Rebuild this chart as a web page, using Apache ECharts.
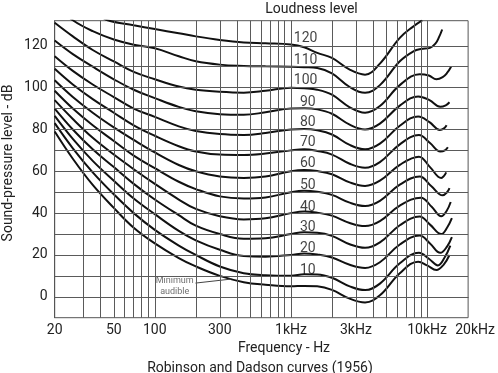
<!DOCTYPE html>
<html><head><meta charset="utf-8">
<script src="https://cdn.jsdelivr.net/npm/echarts@6/dist/echarts.min.js"></script>
<style>html,body{margin:0;padding:0;background:#fff}#c{width:498px;height:373px}</style>
</head><body><div id="c"></div>
<script>
// ---- data ----
const freqTicks = [20, 50, 100, 300, 1000, 3000, 10000, 20000];
const tickText = ['20', '50', '100', '300', '1kHz', '3kHz', '10kHz', '20kHz'];
const vGrid = [30,40,50,60,70,80,90,100,200,300,400,500,600,700,800,900,1000,2000,3000,4000,5000,6000,7000,8000,9000,10000];
const hGrid = [0,10,20,30,40,50,60,70,80,90,100,110,120];
const phonText = ['120','110','100','90','80','70','60','50','40','30','20','10'];
const labelHz = [1280,1280,1280,1330,1330,1330,1330,1330,1330,1330,1330,1330];
const labelDb = [123.3,112.8,103.2,92.9,83.3,73.8,63.5,53.4,42.9,33.1,23.0,12.8];

const curve120 = [[40,134.5],[45,132.2],[70,129.8],[100,128],[150,126],[200,124.5],[300,122.8],[450,121.6],[650,121.2],[1000,120.6],[1250,119.3],[1560,116.6],[2000,114.2],[2700,108.6],[3500,106.2],[4500,111.5],[6300,123.8],[8000,129.5],[9200,132.2]];
const curve110 = [[22,136],[25,132.2],[35,127],[50,123],[70,120.5],[100,118.8],[150,115],[200,112.6],[300,111],[450,110.4],[650,110.2],[1000,110],[1250,109.8],[1560,109.4],[2000,106.8],[2700,100.3],[3500,97.5],[4500,101.2],[6300,112.6],[8000,117.5],[9000,118.5],[10500,119],[11500,121],[12200,124],[12900,127.8]];
const curve100 = [[18.4,131],[25,124.5],[35,118],[50,112.5],[70,107.5],[100,104],[150,100.5],[200,99],[300,98],[450,97.6],[650,98.5],[1000,100],[1250,99.7],[1560,99],[2000,96.6],[2700,90.6],[3500,88],[4500,91.2],[6300,101.2],[8800,106.4],[10300,105.8],[11700,104],[13000,105],[14000,107],[15000,110]];
const curve90 = [[18.4,122.5],[25,116],[35,110],[50,104],[70,99],[100,95],[150,90.8],[200,88.7],[300,87.3],[450,87],[650,88.2],[1000,90],[1250,90.1],[1560,89.6],[2000,87.5],[2700,82.3],[3500,80],[4500,82.8],[6300,91.4],[8600,95.8],[10400,94],[12500,90.8],[13700,91.5],[14600,93]];
const curve80 = [[18.4,115],[25,108],[35,101.5],[50,95.5],[70,90],[100,86],[150,81.5],[200,79.3],[300,77.8],[450,77.4],[650,78.3],[1000,80],[1250,80.2],[1560,79.6],[2000,77.6],[2700,72.6],[3500,70.5],[4500,73.2],[6300,81.8],[8600,86.2],[10400,83.5],[12400,79.8],[13300,80.5],[13900,82]];
const curve70 = [[18.4,109],[25,101.5],[35,94.5],[50,88],[70,82],[100,77],[150,72],[200,69.5],[300,68],[450,67.8],[650,68.5],[1000,70],[1250,70.5],[1560,69.7],[2000,68],[2700,63.6],[3500,61.7],[4500,64.4],[6300,72.9],[8700,77.3],[10500,73.5],[12500,69.5],[13500,70],[14200,71.5]];
const curve60 = [[18.4,103.5],[25,95.5],[35,88],[50,81],[70,75],[100,69],[150,63],[200,60],[300,57.5],[450,56.8],[650,57.5],[1000,60],[1250,60.6],[1560,60.1],[2000,58.6],[2700,54.7],[3500,53],[4500,55.5],[6300,63.1],[8700,67],[10500,62],[12700,56.8],[13300,57.8],[13800,59.5]];
const curve50 = [[18.4,98.5],[25,90],[35,82],[50,74.5],[70,67.5],[100,61.5],[150,55],[200,51.5],[300,48],[450,47],[650,47.5],[1000,50],[1250,50.7],[1560,50.2],[2000,48.7],[2700,45],[3500,43.4],[4500,45.9],[6300,53.6],[8800,57.5],[10700,53],[13000,48.5],[14000,50],[14600,52]];
const curve40 = [[18.4,94],[25,85],[35,76],[50,68],[70,61],[100,54],[150,46.5],[200,42],[300,38.5],[450,37],[650,37.5],[1000,40],[1250,40.8],[1560,40.2],[2000,38.8],[2700,35.3],[3500,33.8],[4500,36.2],[6300,43.6],[9000,47.4],[10800,43],[12700,38.5],[13900,41],[14900,45.3]];
const curve30 = [[18.4,90],[25,80],[35,70.5],[50,62],[70,54],[100,46.5],[150,39],[200,34],[300,30],[450,27.8],[650,28],[1000,30],[1250,30.8],[1560,30.6],[2000,29.1],[2700,25.1],[3500,23.4],[4500,26],[6300,34.2],[8800,38.4],[10500,34.5],[12700,30],[14000,33],[15200,37.6]];
const curve20 = [[18.4,86.5],[25,75.5],[35,65],[50,55.5],[70,47],[100,39.5],[150,31.5],[200,27],[300,22.5],[450,19.5],[650,19.2],[1000,20],[1250,20.7],[1560,20.2],[2000,18.8],[2700,15.3],[3500,13.8],[4500,16.5],[6300,25],[8800,29.3],[10500,25.5],[12500,21],[14000,24],[15200,28.5]];
const curve10 = [[18.4,83],[25,71],[35,59.5],[50,49],[70,40],[100,32],[150,24.5],[200,20],[300,14.5],[450,11.3],[650,10.3],[1000,10],[1250,10.8],[1560,10.7],[2000,9.1],[2700,5],[3500,3.2],[4500,6.3],[6300,16],[8700,21],[10300,18.2],[12000,15],[13500,19],[14800,24.5]];
const curveMAF = [[18.4,79],[25,66],[35,53.5],[50,42.5],[70,33],[100,25.5],[150,18.5],[200,14.5],[300,10],[450,7],[650,5.8],[1000,5],[1250,5.2],[1560,5],[2000,3.3],[2700,-0.9],[3500,-2.7],[4500,0.7],[6300,11.3],[8600,16.8],[10000,15],[11700,12.8],[13200,15.3],[14600,20]];
const pointerLine = [[199,6.55],[364,8.47]];
const mafNote = [[140,4.9,'Minimum\naudible']];

// ---- chart ----
const FONT = 'Roboto';
const curves = [curve120,curve110,curve100,curve90,curve80,curve70,curve60,curve50,curve40,curve30,curve20,curve10,curveMAF];
const curveSeries = curves.map(d => ({
  type: 'line', data: d, showSymbol: false, smooth: 0.4, clip: true, silent: true, z: 3,
  lineStyle: { color: '#111', width: 2 }
}));
const gridStyle = { color: '#5a5a5a', width: 1, type: 'solid' };
const chart = echarts.init(document.getElementById('c'), null, { renderer: 'canvas' });
chart.setOption({
  animation: false,
  backgroundColor: '#fff',
  textStyle: { fontFamily: FONT },
  title: [
    { text: 'Loudness level', left: 306.5, top: -3, textAlign: 'center', textStyle: { fontFamily: FONT, fontSize: 14, fontWeight: 'normal', color: '#222' } },
    { text: 'Frequency - Hz', left: 279, top: 336, textAlign: 'center', textStyle: { fontFamily: FONT, fontSize: 14, fontWeight: 'normal', color: '#222' } },
    { text: 'Robinson and Dadson curves (1956)', left: 255, top: 356, textAlign: 'center', textStyle: { fontFamily: FONT, fontSize: 14, fontWeight: 'normal', color: '#222' } }
  ],
  graphic: [{
    type: 'text', x: 8, y: 163, rotation: Math.PI / 2,
    style: { text: 'Sound-pressure level - dB', font: '14px Roboto', fill: '#222', align: 'center', verticalAlign: 'middle' }
  }],
  grid: { left: 54.7, right: 26, top: 20.7, bottom: 55.3, show: true, borderColor: '#555', borderWidth: 1 },
  xAxis: {
    type: 'log', logBase: 10, min: 18.4, max: 20000,
    axisLine: { show: true, lineStyle: { color: '#555' } },
    axisTick: { show: false },
    splitLine: { show: false },
    minorTick: { show: false },
    axisLabel: {
      customValues: freqTicks, margin: 6, color: '#222', fontFamily: FONT, fontSize: 14,
      formatter: v => {
        const i = freqTicks.indexOf(v);
        const t = i >= 0 ? tickText[i] : '';
        if (v === 20) return '{l|' + t + '}';
        if (v === 20000) return '{r|' + t + '}';
        return t;
      },
      rich: {
        l: { padding: [0, 10, 0, 0], fontFamily: FONT, fontSize: 14, color: '#222' },
        r: { padding: [0, 0, 0, 14], fontFamily: FONT, fontSize: 14, color: '#222' }
      }
    }
  },
  yAxis: {
    type: 'value', min: -10, max: 132, interval: 10,
    axisLine: { show: true, lineStyle: { color: '#555' } },
    axisTick: { show: false },
    splitLine: { show: false },
    axisLabel: {
      margin: 7, color: '#222', fontFamily: FONT, fontSize: 14,
      formatter: v => (v >= 0 && v <= 120 && v % 20 === 0) ? String(v) : ''
    }
  },
  series: [
    {
      type: 'line', data: [], silent: true, z: 1,
      markLine: {
        silent: true, symbol: ['none', 'none'], animation: false,
        label: { show: false }, lineStyle: gridStyle,
        data: vGrid.map(v => ({ xAxis: v })).concat(hGrid.map(v => ({ yAxis: v })))
      }
    },
    ...curveSeries,
    {
      type: 'line', data: pointerLine, showSymbol: false, silent: true, z: 3,
      lineStyle: { color: '#444', width: 1 }
    },
    {
      type: 'scatter', data: mafNote, symbolSize: 0, silent: true, z: 4,
      label: { show: true, position: 'inside', formatter: p => p.value[2], fontFamily: FONT, fontSize: 9, lineHeight: 11, color: '#4a4a4a' }
    },
    {
      type: 'scatter', data: labelHz.map((f, i) => [f, labelDb[i], phonText[i]]), symbolSize: 0, silent: true, z: 4,
      label: { show: true, position: 'inside', formatter: p => p.value[2], fontFamily: FONT, fontSize: 14, color: '#111' }
    }
  ]
});
</script></body></html>
